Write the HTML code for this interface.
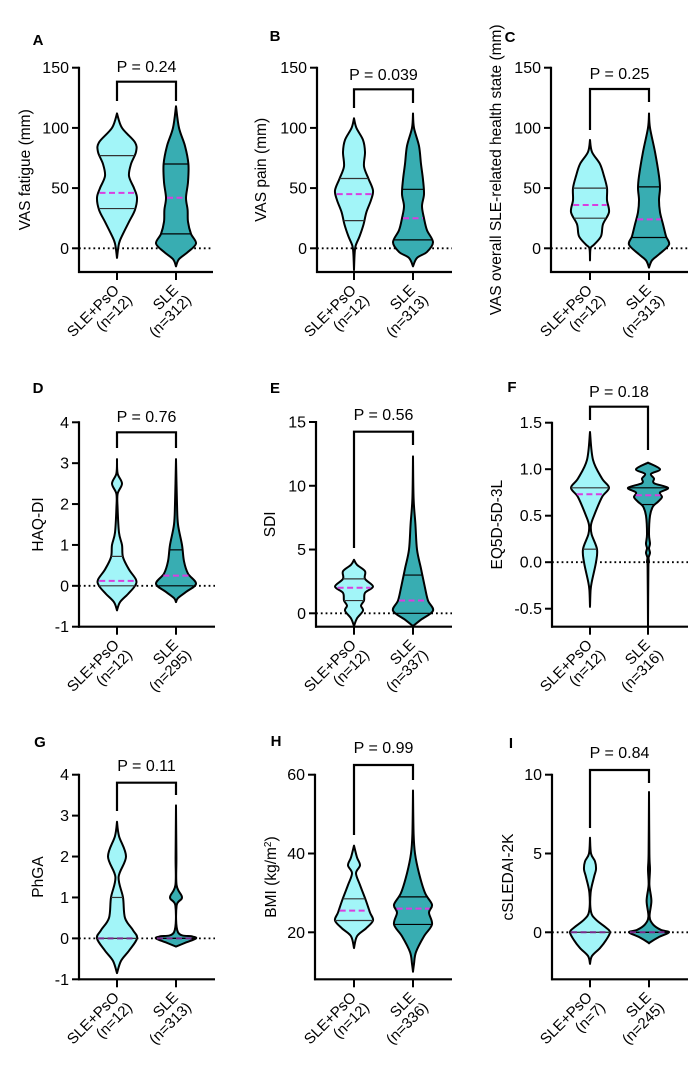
<!DOCTYPE html>
<html><head><meta charset="utf-8"><style>
html,body{margin:0;padding:0;background:#fff;}
svg{display:block;font-family:"Liberation Sans",Arial,sans-serif;}
</style></head><body>
<svg id="fig" width="700" height="1079" viewBox="0 0 700 1079" xmlns="http://www.w3.org/2000/svg"></svg>
<script>
// ---- data: violin density profiles [value, relative density] ----
const A_pso=[[112,0],[100,0.25],[88,0.9],[80,0.95],[70,0.7],[60,0.6],[50,0.85],[42,1.0],[32,0.9],[22,0.6],[12,0.3],[4,0.1],[-8,0]];
const A_sle=[[118,0],[100,0.15],[85,0.45],[70,0.62],[55,0.6],[42,0.5],[32,0.58],[22,0.6],[12,0.75],[4,1.0],[-3,0.6],[-9,0.15],[-15,0]];
const B_pso=[[108,0],[100,0.12],[90,0.45],[80,0.55],[68,0.5],[58,0.72],[48,0.95],[40,0.85],[30,0.62],[20,0.48],[10,0.28],[2,0.08],[-5,0.03],[-18,0]];
const B_sle=[[112,0],[100,0.05],[85,0.3],[70,0.4],[57,0.5],[45,0.55],[35,0.45],[25,0.55],[15,0.7],[5,1.0],[-3,0.7],[-8,0.2],[-15,0]];
const C_pso=[[90,0],[80,0.1],[70,0.5],[60,0.7],[50,0.85],[40,0.85],[30,0.95],[20,0.65],[10,0.55],[3,0.2],[0,0.03],[-10,0]];
const C_sle=[[112,0],[100,0.05],[80,0.3],[60,0.5],[50,0.55],[40,0.5],[30,0.55],[20,0.7],[10,0.85],[3,1.0],[-5,0.5],[-10,0.15],[-16,0]];
const D_pso=[[3.1,0],[2.75,0.03],[2.5,0.25],[2.25,0.03],[1.9,0.03],[1.3,0.1],[1.0,0.25],[0.7,0.3],[0.4,0.6],[0.15,0.95],[0,0.9],[-0.2,0.55],[-0.4,0.15],[-0.6,0]];
const D_sle=[[3.1,0],[2.0,0.05],[1.5,0.1],[1.0,0.3],[0.6,0.4],[0.3,0.6],[0.05,1.0],[-0.15,0.5],[-0.3,0.1],[-0.4,0]];
const E_pso=[[4.2,0],[3.8,0.15],[3.3,0.55],[2.7,0.55],[2.1,0.95],[1.6,0.55],[1.0,0.5],[0.6,0.35],[0.2,0.45],[-0.4,0.15],[-1.0,0]];
const E_sle=[[12.3,0],[9,0.03],[7,0.12],[5,0.2],[3.5,0.4],[2,0.6],[1,0.75],[0.2,1.0],[-0.5,0.4],[-1.0,0]];
const F_pso=[[1.4,0],[1.1,0.15],[0.9,0.6],[0.8,0.95],[0.7,0.6],[0.5,0.2],[0.4,0.05],[0.3,0.08],[0.14,0.35],[0.0,0.3],[-0.2,0.1],[-0.3,0.03],[-0.48,0]];
const F_sle=[[1.07,0],[1.0,0.6],[0.95,0.15],[0.9,0.3],[0.85,0.3],[0.8,1.0],[0.75,0.6],[0.7,0.7],[0.65,0.5],[0.6,0.25],[0.5,0.1],[0.3,0.05],[0.2,0.1],[0.15,0.05],[0.1,0.1],[0.05,0.03],[0,0.05],[-0.05,0.02],[-0.7,0]];
const G_pso=[[2.85,0],[2.5,0.1],[2.0,0.45],[1.5,0.08],[1.0,0.3],[0.5,0.4],[0.2,0.8],[0,1.0],[-0.3,0.6],[-0.55,0.2],[-0.85,0]];
const G_sle=[[3.25,0],[2.0,0.02],[1.3,0.03],[1.0,0.3],[0.8,0.03],[0.15,0.1],[0.05,0.8],[0,1.0],[-0.1,0.5],[-0.2,0]];
const H_pso=[[42,0],[39,0.15],[37,0.3],[35,0.1],[32,0.3],[28,0.6],[25,0.8],[23,0.95],[21,0.6],[19,0.15],[16,0]];
const H_sle=[[56,0],[45,0.03],[40,0.1],[35,0.3],[30,0.6],[27,0.95],[25,0.8],[22,0.95],[19,0.55],[15,0.15],[12,0.05],[10,0]];
const I_pso=[[6,0],[5,0.05],[4.5,0.25],[4,0.3],[3.5,0.2],[2.5,0.03],[1.3,0.05],[0.8,0.3],[0.3,0.8],[0,1.0],[-0.5,0.8],[-1,0.5],[-1.5,0.1],[-2,0]];
const I_sle=[[8.9,0],[5,0.02],[4,0.05],[3,0.02],[2,0.12],[1,0.03],[0.5,0.2],[0.15,0.6],[0,1.0],[-0.3,0.5],[-0.6,0.1],[-0.7,0]];
// quartiles [q1, median, q3]
const A_q=[[33,46,77],[12,42,70]];
const B_q=[[23,45,58],[7,25,49]];
const C_q=[[25,36,50],[9,24,51]];
const D_q=[[0,0.12,0.72],[0,0.25,0.88]];
const E_q=[[1.0,2.0,2.7],[0,1.0,3.0]];
const F_q=[[0.14,0.73,0.8],[0.62,0.72,0.8]];
const G_q=[[0,0,1],[0,0,0]];
const H_q=[[23,25.5,28.5],[22,26,29]];
const I_q=[[0,0,0],[0,0,0]];
const groupNames=["SLE+PsO","SLE"];
const nA=["(n=12)","(n=312)"],nB=["(n=12)","(n=313)"],nC=["(n=12)","(n=313)"],nD=["(n=12)","(n=295)"],nE=["(n=12)","(n=337)"],nF=["(n=12)","(n=316)"],nG=["(n=12)","(n=313)"],nH=["(n=12)","(n=336)"],nI=["(n=7)","(n=245)"];
const pVals=["P = 0.24","P = 0.039","P = 0.25","P = 0.76","P = 0.56","P = 0.18","P = 0.11","P = 0.99","P = 0.84"];
const ticksA=[0,50,100,150],ticksD=[-1,0,1,2,3,4],ticksE=[0,5,10,15],ticksF=[-0.5,0,0.5,1.0,1.5],ticksH=[20,40,60],ticksI=[0,5,10];

const svg=document.getElementById('fig');
const NS='http://www.w3.org/2000/svg';
function mk(tag,attrs,parent){const e=document.createElementNS(NS,tag);for(const k in attrs)e.setAttribute(k,attrs[k]);(parent||svg).appendChild(e);return e;}

const panels=[
 {L:'A',lx:38,ly:45,title:'VAS fatigue (mm)',tx:30,ax:79,right:213,c:[117,176],xa:272,v1:150,p1:67.7,v2:0,p2:248.3,ticks:ticksA,fmt:v=>String(v),zero:true,data:[A_pso,A_sle],q:A_q,n:nA,br:81.7,legs:[101,101],py:72},
 {L:'B',lx:275,ly:41,title:'VAS pain (mm)',tx:266,ax:317,right:452,c:[354,413],xa:272,v1:150,p1:67.7,v2:0,p2:248.3,ticks:ticksA,fmt:v=>String(v),zero:true,data:[B_pso,B_sle],q:B_q,n:nB,br:89.3,legs:[108,103],py:80},
 {L:'C',lx:510,ly:42,title:'VAS overall SLE-related health state (mm)',tx:501,ax:551,right:688,c:[590,649],xa:272,v1:150,p1:67.7,v2:0,p2:248.3,ticks:ticksA,fmt:v=>String(v),zero:true,data:[C_pso,C_sle],q:C_q,n:nC,br:89,legs:[130,102],py:79},
 {L:'D',lx:38,ly:393,title:'HAQ-DI',tx:43,ax:79,right:215,c:[117,176],xa:626.7,v1:4,p1:422.3,v2:-1,p2:626.7,ticks:ticksD,fmt:v=>String(v),zero:true,data:[D_pso,D_sle],q:D_q,n:nD,br:432.3,legs:[448,448],py:422},
 {L:'E',lx:275,ly:393,title:'SDI',tx:275,ax:316,right:452,c:[354,413],xa:626.7,v1:15,p1:422,v2:0,p2:613.3,ticks:ticksE,fmt:v=>String(v),zero:true,data:[E_pso,E_sle],q:E_q,n:nE,br:431.7,legs:[548,445],py:420},
 {L:'F',lx:512,ly:392,title:'EQ5D-5D-3L',tx:502,ax:552,right:688,c:[590,648],xa:626.7,v1:1.5,p1:422.7,v2:-0.5,p2:608.7,ticks:ticksF,fmt:v=>v.toFixed(1),zero:true,data:[F_pso,F_sle],q:F_q,n:nF,br:406.7,legs:[420,450],py:397},
 {L:'G',lx:40,ly:747,title:'PhGA',tx:43,ax:79,right:215,c:[117,176],xa:979.3,v1:4,p1:774.7,v2:-1,p2:979.3,ticks:ticksD,fmt:v=>String(v),zero:true,data:[G_pso,G_sle],q:G_q,n:nG,br:782.7,legs:[811,795],py:771},
 {L:'H',lx:276,ly:746,title:'BMI',tx:276,ax:315,right:452,c:[354,413],xa:979.3,v1:60,p1:774.7,v2:20,p2:932.3,ticks:ticksH,fmt:v=>String(v),zero:false,data:[H_pso,H_sle],q:H_q,n:nH,br:765,legs:[835,780],py:753},
 {L:'I',lx:511,ly:748,title:'cSLEDAI-2K',tx:513,ax:552,right:688,c:[590,649],xa:979.3,v1:10,p1:774.7,v2:0,p2:932.3,ticks:ticksI,fmt:v=>String(v),zero:true,data:[I_pso,I_sle],q:I_q,n:nI,br:770,legs:[828,783],py:758}
];
const fills=['#a2f5f8','#38adb2'];
const HALF=20;

function smoothPath(pts){ // catmull-rom to bezier
 let d='';
 for(let i=0;i<pts.length-1;i++){
  const p0=pts[Math.max(0,i-1)],p1=pts[i],p2=pts[i+1],p3=pts[Math.min(pts.length-1,i+2)];
  const c1=[p1[0]+(p2[0]-p0[0])/6,p1[1]+(p2[1]-p0[1])/6];
  const c2=[p2[0]-(p3[0]-p1[0])/6,p2[1]-(p3[1]-p1[1])/6];
  d+=` C${c1[0].toFixed(2)},${c1[1].toFixed(2)} ${c2[0].toFixed(2)},${c2[1].toFixed(2)} ${p2[0].toFixed(2)},${p2[1].toFixed(2)}`;
 }
 return d;
}
function densAt(prof,v){
 for(let i=0;i<prof.length-1;i++){const a=prof[i],b=prof[i+1];if(v<=a[0]&&v>=b[0]){const t=(a[0]-v)/(a[0]-b[0]||1);return a[1]+(b[1]-a[1])*t;}}
 return 0;
}

panels.forEach((P,pi)=>{
 const g=mk('g',{});
 
 
 const y=v=>P.p2+(v-P.v2)*(P.p1-P.p2)/(P.v1-P.v2);
 const lt=mk('text',{x:P.lx,y:P.ly,'font-size':15,'font-weight':'bold','text-anchor':'middle'},g);lt.textContent=P.L;
 
 const top=y(P.ticks[P.ticks.length-1]);
 const cy=(top+P.xa)/2;
 const t=mk('text',{x:P.tx,y:cy,'font-size':15.5,'text-anchor':'middle',transform:`rotate(-90 ${P.tx} ${cy})`},g);
 
 if(P.L==='H'){t.textContent='BMI (kg/m';const s=mk('tspan',{dy:-5,'font-size':10},t);s.textContent='2';const s2=mk('tspan',{dy:5},t);s2.textContent=')';}
 else t.textContent=P.title;
 if(P.zero){const z=mk('line',{x1:P.ax,x2:P.right,y1:y(0),y2:y(0),stroke:'#000','stroke-width':1.8,'stroke-dasharray':'1.8,3'},g);
  }
 P.data.forEach((prof,k)=>{
  const cx=P.c[k];
  const right=prof.map(p=>[cx+p[1]*HALF,y(p[0])]);
  const left=prof.slice().reverse().map(p=>[cx-p[1]*HALF,y(p[0])]);
  let d=`M${right[0][0]},${right[0][1]}`+smoothPath(right)+` L${left[0][0]},${left[0][1]}`+smoothPath(left)+'Z';
  const v=mk('path',{d:d,fill:fills[k],stroke:'#000','stroke-width':2,'stroke-linejoin':'round'},g);
  
  
  const q=P.q[k];
  [q[0],q[2]].forEach(val=>{const w=densAt(prof,val)*HALF;
   const l=mk('line',{x1:cx-w,x2:cx+w,y1:y(val),y2:y(val),stroke:k===0?'#333':'#000','stroke-width':1.2},g);
   });
  const wm=Math.max(densAt(prof,q[1])*HALF-1,3);
  const m=mk('line',{x1:cx-wm,x2:cx+wm,y1:y(q[1]),y2:y(q[1]),stroke:(q[1]===0&&q[0]===0)?'#7a2a8a':'#d83ee0','stroke-width':2,'stroke-dasharray':'6,3.5'},g);
  
 });
 const ya=mk('line',{x1:P.ax,x2:P.ax,y1:top-1,y2:P.xa+1,stroke:'#000','stroke-width':2.2},g);
 
 const xa=mk('line',{x1:P.ax-1,x2:P.right,y1:P.xa,y2:P.xa,stroke:'#000','stroke-width':2.2},g);
 
 P.ticks.forEach(tv=>{
  const ty=y(tv);
  mk('line',{x1:P.ax-7,x2:P.ax,y1:ty,y2:ty,stroke:'#000','stroke-width':2},g);
  const tl=mk('text',{x:P.ax-10,y:ty+5.5,'font-size':16,'text-anchor':'end'},g);tl.textContent=P.fmt(tv);
  
 });
 P.c.forEach((cx,k)=>{
  mk('line',{x1:cx,x2:cx,y1:P.xa,y2:P.xa+8,stroke:'#000','stroke-width':2},g);
  const a1=[cx+3,P.xa+19],a2=[cx+16,P.xa+29];
  const l1=mk('text',{x:a1[0],y:a1[1],'font-size':15,'text-anchor':'end',transform:`rotate(-45 ${a1[0]} ${a1[1]})`},g);l1.textContent=groupNames[k];
  
  const l2=mk('text',{x:a2[0],y:a2[1],'font-size':15,'text-anchor':'end',transform:`rotate(-45 ${a2[0]} ${a2[1]})`},g);l2.textContent=P.n[k];
  
 });
 const b=mk('path',{d:`M${P.c[0]},${P.legs[0]} L${P.c[0]},${P.br} L${P.c[1]},${P.br} L${P.c[1]},${P.legs[1]}`,fill:'none',stroke:'#000','stroke-width':2.2},g);
 
 const pt=mk('text',{x:(P.c[0]+P.c[1])/2,y:P.py,'font-size':16,'text-anchor':'middle'},g);pt.textContent=pVals[pi];
 
});
</script>
</body></html>
